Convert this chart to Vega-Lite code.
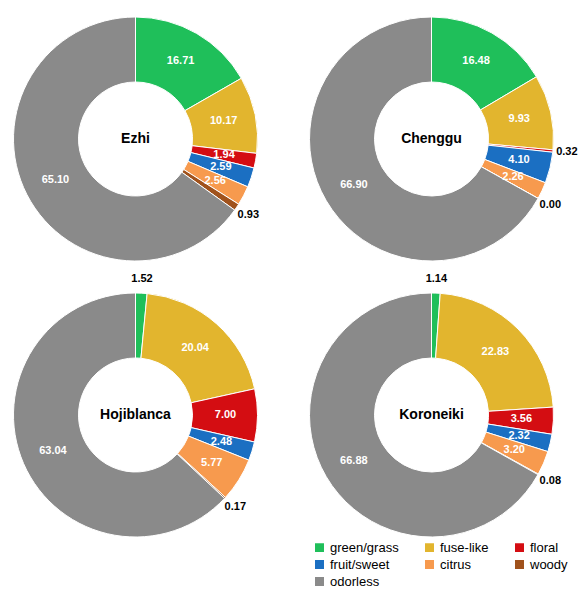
{
  "$schema": "https://vega.github.io/schema/vega-lite/v6.json",
  "background": "white",
  "padding": {"left": 8, "top": 13, "right": 5, "bottom": 2},
  "data": {"values": [
    {"sample": "Ezhi", "source": "green/grass", "value": 16.71, "k": 1},
    {"sample": "Ezhi", "source": "fuse-like", "value": 10.17, "k": 2},
    {"sample": "Ezhi", "source": "floral", "value": 1.94, "k": 3},
    {"sample": "Ezhi", "source": "fruit/sweet", "value": 2.59, "k": 4},
    {"sample": "Ezhi", "source": "citrus", "value": 2.56, "k": 5},
    {"sample": "Ezhi", "source": "woody", "value": 0.93, "k": 6},
    {"sample": "Ezhi", "source": "odorless", "value": 65.10, "k": 7},
    {"sample": "Chenggu", "source": "green/grass", "value": 16.48, "k": 1},
    {"sample": "Chenggu", "source": "fuse-like", "value": 9.93, "k": 2},
    {"sample": "Chenggu", "source": "floral", "value": 0.32, "k": 3},
    {"sample": "Chenggu", "source": "fruit/sweet", "value": 4.10, "k": 4},
    {"sample": "Chenggu", "source": "citrus", "value": 2.26, "k": 5},
    {"sample": "Chenggu", "source": "woody", "value": 0.00, "k": 6},
    {"sample": "Chenggu", "source": "odorless", "value": 66.90, "k": 7},
    {"sample": "Hojiblanca", "source": "green/grass", "value": 1.52, "k": 1},
    {"sample": "Hojiblanca", "source": "fuse-like", "value": 20.04, "k": 2},
    {"sample": "Hojiblanca", "source": "floral", "value": 7.00, "k": 3},
    {"sample": "Hojiblanca", "source": "fruit/sweet", "value": 2.48, "k": 4},
    {"sample": "Hojiblanca", "source": "citrus", "value": 5.77, "k": 5},
    {"sample": "Hojiblanca", "source": "woody", "value": 0.17, "k": 6},
    {"sample": "Hojiblanca", "source": "odorless", "value": 63.04, "k": 7},
    {"sample": "Koroneiki", "source": "green/grass", "value": 1.14, "k": 1},
    {"sample": "Koroneiki", "source": "fuse-like", "value": 22.83, "k": 2},
    {"sample": "Koroneiki", "source": "floral", "value": 3.56, "k": 3},
    {"sample": "Koroneiki", "source": "fruit/sweet", "value": 2.32, "k": 4},
    {"sample": "Koroneiki", "source": "citrus", "value": 3.20, "k": 5},
    {"sample": "Koroneiki", "source": "woody", "value": 0.08, "k": 6},
    {"sample": "Koroneiki", "source": "odorless", "value": 66.88, "k": 7}
  ]},
  "facet": {"field": "sample", "type": "nominal", "sort": ["Ezhi", "Chenggu", "Hojiblanca", "Koroneiki"], "header": {"title": null, "labelExpr": "''", "labelPadding": 0, "labelFontSize": 1}},
  "columns": 2,
  "spacing": {"row": 8, "column": 22},
  "spec": {
    "width": 255,
    "height": 250,
    "encoding": {
      "theta": {"field": "value", "type": "quantitative", "stack": true},
      "order": {"field": "k", "type": "quantitative"},
      "color": {
        "field": "source", "type": "nominal",
        "scale": {
          "domain": ["green/grass", "fuse-like", "floral", "fruit/sweet", "citrus", "woody", "odorless"],
          "range": ["#1fbf5a", "#e2b52e", "#d40d12", "#1b6fc2", "#f79a4e", "#a0521c", "#8a8a8a"]
        },
        "legend": {
          "title": null, "orient": "none", "legendX": 305, "legendY": 527, "direction": "horizontal", "columns": 3,
          "symbolType": "square", "symbolSize": 110, "labelFontSize": 13, "columnPadding": 22,
          "rowPadding": 0, "labelFont": "Liberation Sans"
        }
      }
    },
    "layer": [
      {"mark": {"type": "arc", "innerRadius": 57, "outerRadius": 122, "stroke": "white", "strokeWidth": 1}},
      {
        "mark": {"type": "text", "radius": 90, "fontWeight": "bold", "fontSize": 11, "font": "Liberation Sans"},
        "encoding": {
          "text": {"condition": {"test": "datum.value < 1.9", "value": ""}, "field": "value", "type": "quantitative", "format": ".2f"},
          "color": {"value": "white"}
        }
      },
      {
        "mark": {"type": "text", "radius": 136, "fontWeight": "bold", "fontSize": 11, "font": "Liberation Sans"},
        "encoding": {
          "text": {"condition": {"test": "datum.value >= 1.9", "value": ""}, "field": "value", "type": "quantitative", "format": ".2f"},
          "color": {"value": "black"}
        }
      },
      {
        "transform": [{"filter": "datum.k == 1"}],
        "mark": {"type": "text", "fontWeight": "bold", "fontSize": 14, "font": "Liberation Sans"},
        "encoding": {"text": {"field": "sample"}, "theta": null, "order": null, "color": {"value": "black"}}
      }
    ]
  }
}
